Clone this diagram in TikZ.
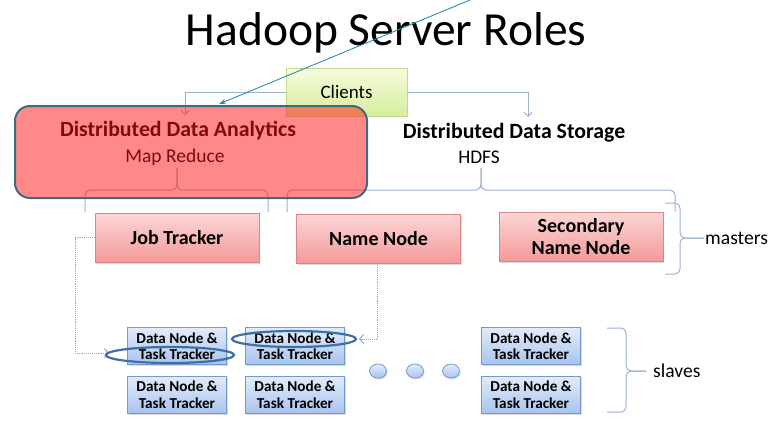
\documentclass[tikz,border=0pt]{standalone}
\usepackage{fontspec}
\setmainfont{Carlito}
\usetikzlibrary{arrows.meta,shadows,shapes.geometric,calc}
\definecolor{redtop}{HTML}{FCD6D6}
\definecolor{redbot}{HTML}{F39A9A}
\definecolor{redline}{HTML}{DE8484}
\definecolor{bluetop}{HTML}{E2ECFB}
\definecolor{bluebot}{HTML}{A9C4EE}
\definecolor{blueline}{HTML}{7399D3}
\definecolor{greentop}{HTML}{F6FBDC}
\definecolor{greenbot}{HTML}{D6EE9E}
\definecolor{greenline}{HTML}{C6D88E}
\definecolor{bracecol}{HTML}{9AB2CE}
\definecolor{dotcol}{HTML}{8EA5C6}
\definecolor{hlcol}{HTML}{3F6FA6}
\definecolor{tealcol}{HTML}{2B8DB0}
\definecolor{ovborder}{HTML}{3D6B7F}
\definecolor{ovfill}{HTML}{FF1414}
\begin{document}
\begin{tikzpicture}[x=1pt,y=-1pt,
  shad/.style={drop shadow={opacity=0.3,shadow xshift=1pt,shadow yshift=-1.5pt}},
  redbox/.style={draw=redline,line width=0.8pt,top color=redtop,bottom color=redbot,
    minimum width=164pt,minimum height=49pt,align=center,inner sep=1pt,
    font=\bfseries\fontsize{20}{22}\selectfont,shad},
  bluebox/.style={draw=blueline,line width=0.8pt,top color=bluetop,bottom color=bluebot,
    minimum width=99pt,minimum height=37pt,align=center,inner sep=1pt,
    font=\bfseries\fontsize{15.2}{16.5}\selectfont,shad},
  dotnode/.style={ellipse,draw=blueline,line width=0.8pt,top color=bluetop,bottom color=bluebot,
    minimum width=17pt,minimum height=14pt,inner sep=0pt,shad},
  bracestyle/.style={draw=bracecol,line width=1pt,rounded corners=5pt},
  clientarrow/.style={draw=bracecol,line width=1pt,-{Straight Barb[length=4pt,width=8pt]}},
  dotconn/.style={draw=dotcol,line width=0.9pt,densely dotted,-{Straight Barb[length=4pt,width=9pt]}},
  hl/.style={draw=hlcol,line width=2.2pt},
  lbl/.style={font=\fontsize{19.6}{22}\selectfont}
]
\useasboundingbox (0,0) rectangle (782,439);
% title
\node (title) at (386,33) {\fontsize{47.5}{52}\selectfont Hadoop Server Roles};
% clients
\node[draw=greenline,line width=0.8pt,top color=greentop,bottom color=greenbot,
  minimum width=121pt,minimum height=48pt,font=\fontsize{19}{21}\selectfont] (clients) at (346.5,92) {Clients};
\coordinate (ca) at (185,115);
\coordinate (cb) at (528,117);
\draw[clientarrow] (clients.west) -| (ca);
\draw[clientarrow] (clients.east) -| (cb);
% headings
\node[font=\bfseries\fontsize{21.8}{24}\selectfont] (dda) at (178,131) {Distributed Data Analytics};
\node[font=\fontsize{19.5}{22}\selectfont] (mapred) at (175,157) {Map Reduce};
\node[font=\bfseries\fontsize{21.8}{24}\selectfont] (dds) at (514,133) {Distributed Data Storage};
\node[font=\fontsize{19.3}{22}\selectfont] (hdfs) at (479,157) {HDFS};
% braces
\draw[bracestyle] (85,212) |- (177,190) -- (177,168);
\draw[bracestyle] (268,212) |- (177,190) -- (177,168);
\draw[bracestyle] (287,212) |- (481,190) -- (481,168);
\draw[bracestyle] (675,212) |- (481,190) -- (481,168);
% masters
\node[redbox] (jt) at (177,237.5) {Job Tracker};
\node[redbox] (nn) at (378.5,238.5) {Name Node};
\node[redbox] (snn) at (581,236.5) {Secondary\\Name Node};
\draw[bracestyle] (665,203) -| (680,238) -- (704,238);
\draw[bracestyle] (665,274) -| (680,238) -- (704,238);
\node[lbl,anchor=west,inner sep=0pt] (masters) at (705,238) {masters};
% slaves
\node[bluebox] (dn11) at (177,346) {Data Node \&\\Task Tracker};
\node[bluebox] (dn12) at (295,346) {Data Node \&\\Task Tracker};
\node[bluebox] (dn13) at (531,346) {Data Node \&\\Task Tracker};
\node[bluebox] (dn21) at (177,394.5) {Data Node \&\\Task Tracker};
\node[bluebox] (dn22) at (295,394.5) {Data Node \&\\Task Tracker};
\node[bluebox] (dn23) at (531,394.5) {Data Node \&\\Task Tracker};
\node[dotnode] (d1) at (378,371) {};
\node[dotnode] (d2) at (415,371) {};
\node[dotnode] (d3) at (451,371) {};
\draw[bracestyle] (607,328) -| (626,371) -- (646,371);
\draw[bracestyle] (607,412) -| (626,371) -- (646,371);
\node[lbl,anchor=west,inner sep=0pt] (slaves) at (653,371) {slaves};
% dotted connectors
\coordinate (jtend) at (109,353);
\coordinate (nnend) at (359,339);
\draw[dotconn] (jt.west) -- (75,237.5) |- (jtend);
\draw[dotconn] (nn.south -| 377,0) |- (nnend);
% highlight ellipses
\draw[hl] (170,355) ellipse [x radius=64, y radius=8];
\draw[hl] (294,339) ellipse [x radius=62, y radius=8];
% red overlay
\draw[draw=ovborder,line width=2pt,fill=ovfill,fill opacity=0.5,rounded corners=15pt]
  (15,106) rectangle (367,198);
% teal arrow
\coordinate (tealstart) at (470,0);
\coordinate (tealend) at (219,104);
\draw[draw=tealcol,line width=0.9pt,-{Stealth[length=7pt,width=5pt]}] (tealstart) -- (tealend);
\end{tikzpicture}
\end{document}
